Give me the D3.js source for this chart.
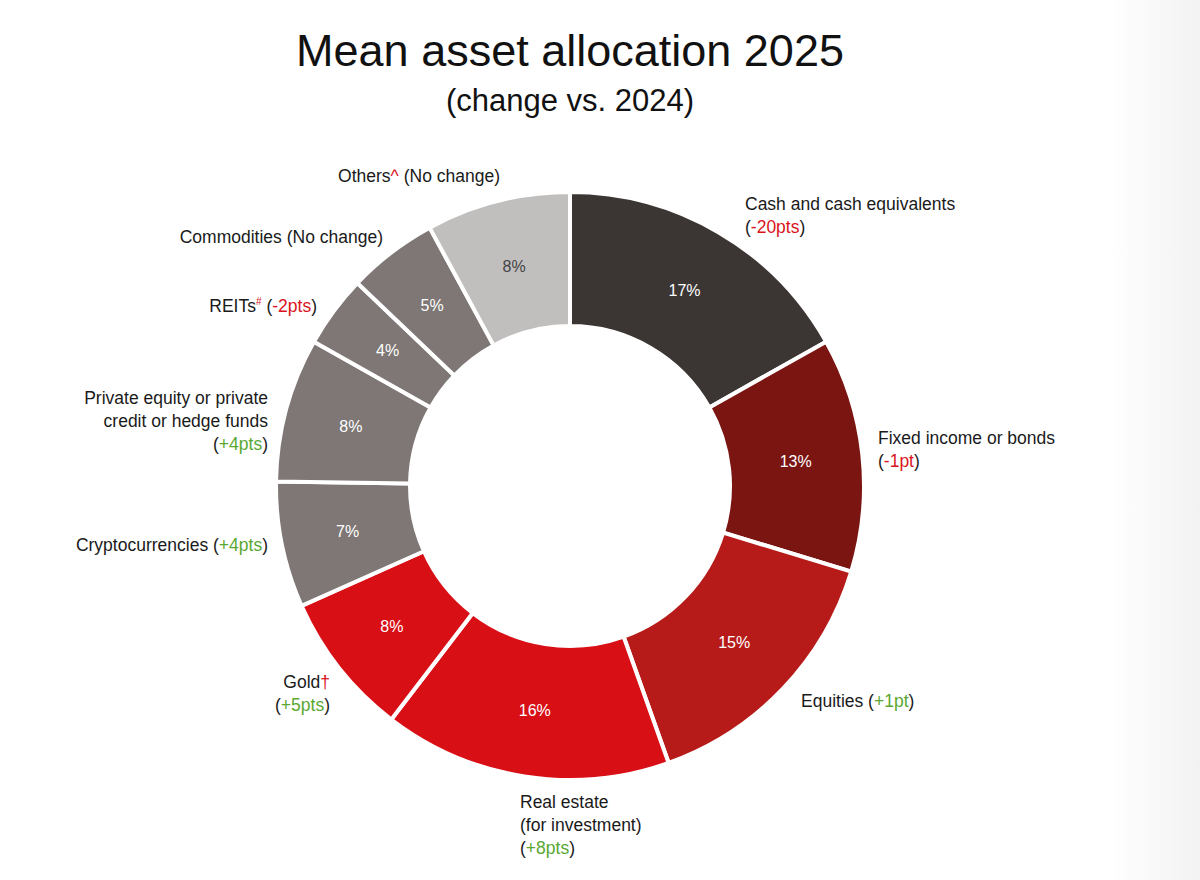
<!DOCTYPE html>
<html><head><meta charset="utf-8">
<script src="https://cdn.jsdelivr.net/npm/d3@7"></script>
<style>body{margin:0;background:#fff}svg{display:block;font-family:"Liberation Sans",Arial,sans-serif}</style>
</head><body><svg></svg>
<script>
const categories = ["Cash and cash equivalents","Fixed income or bonds","Equities","Real estate (for investment)","Gold","Cryptocurrencies","Private equity or private credit or hedge funds","REITs","Commodities","Others"];
const values = [17, 13, 15, 16, 8, 7, 8, 4, 5, 8];
const colors = ["#3b3633","#7a1512","#b71b19","#d90f16","#d90f16","#7e7775","#7e7775","#7e7775","#7e7775","#c1bfbe"];
// label lines: segments of [text, kind]  kind: n=normal, r=red, g=green, s=red superscript
const labelLines = [
  [[["Cash and cash equivalents","n"]],[["(","n"],["-20pts","r"],[")","n"]]],
  [[["Fixed income or bonds","n"]],[["(","n"],["-1pt","r"],[")","n"]]],
  [[["Equities (","n"],["+1pt","g"],[")","n"]]],
  [[["Real estate","n"]],[["(for investment)","n"]],[["(","n"],["+8pts","g"],[")","n"]]],
  [[["Gold","n"],["†","r"]],[["(","n"],["+5pts","g"],[")","n"]]],
  [[["Cryptocurrencies (","n"],["+4pts","g"],[")","n"]]],
  [[["Private equity or private","n"]],[["credit or hedge funds","n"]],[["(","n"],["+4pts","g"],[")","n"]]],
  [[["REITs","n"],["#","s"],[" (","n"],["-2pts","r"],[")","n"]]],
  [[["Commodities (No change)","n"]]],
  [[["Others","n"],["^","r"],[" (No change)","n"]]]
];
// label layout: x, y of first baseline, anchor
const labelLayout = [
  [745,210,"start"],[878,444,"start"],[801,707,"start"],[520,808,"start"],[330,688,"end"],
  [268,551,"end"],[268,404,"end"],[317,312,"end"],[383,243,"end"],[500,182,"end"]
];

const W = 1200, H = 880, cx = 570, cy = 486, rO = 294, rI = 160;
const svg = d3.select("svg").attr("width", W).attr("height", H);
const grad = svg.append("defs").append("linearGradient").attr("id","bg");
grad.append("stop").attr("offset","0%").attr("stop-color","#ffffff");
grad.append("stop").attr("offset","100%").attr("stop-color","#f2f2f2");
svg.append("rect").attr("x",1110).attr("width",90).attr("height",H).attr("fill","url(#bg)");

svg.append("text").attr("x",cx).attr("y",66).attr("text-anchor","middle")
  .attr("font-size",45).attr("fill","#111").text("Mean asset allocation 2025");
svg.append("text").attr("x",cx).attr("y",111).attr("text-anchor","middle")
  .attr("font-size",31).attr("fill","#111").text("(change vs. 2024)");

const pie = d3.pie().sort(null).value(d => d)(values);
const arc = d3.arc().innerRadius(rI).outerRadius(rO);
const lblArc = d3.arc().innerRadius((rI+rO)/2).outerRadius((rI+rO)/2);
const g = svg.append("g").attr("transform", `translate(${cx},${cy})`);
g.selectAll("path").data(pie).join("path")
  .attr("d", arc).attr("fill", (d,i) => colors[i])
  .attr("stroke","#fff").attr("stroke-width",4);
g.selectAll("text.pct").data(pie).join("text").attr("class","pct")
  .attr("transform", d => `translate(${lblArc.centroid(d)})`)
  .attr("text-anchor","middle").attr("dy","0.35em")
  .attr("font-size",16).attr("fill",(d,i) => i === 9 ? "#444" : "#fff")
  .text(d => d.data + "%");

const kindColor = {n:"#1a1a1a", r:"#d9141c", g:"#5aa832", s:"#d9141c"};
labelLines.forEach((lines, i) => {
  const [x, y, anchor] = labelLayout[i];
  const t = svg.append("text").attr("x", x).attr("y", y).attr("text-anchor", anchor).attr("font-size",17.5);
  lines.forEach((segs, j) => {
    segs.forEach((s, k) => {
      const ts = t.append("tspan").attr("fill", kindColor[s[1]]).text(s[0]);
      if (k === 0) ts.attr("x", x).attr("y", y + j * 23);
      if (s[1] === "s") ts.attr("font-size", 10).attr("dy", -7);
      else if (k > 0 && segs[k-1][1] === "s") ts.attr("dy", 7);
    });
  });
});
</script></body></html>
